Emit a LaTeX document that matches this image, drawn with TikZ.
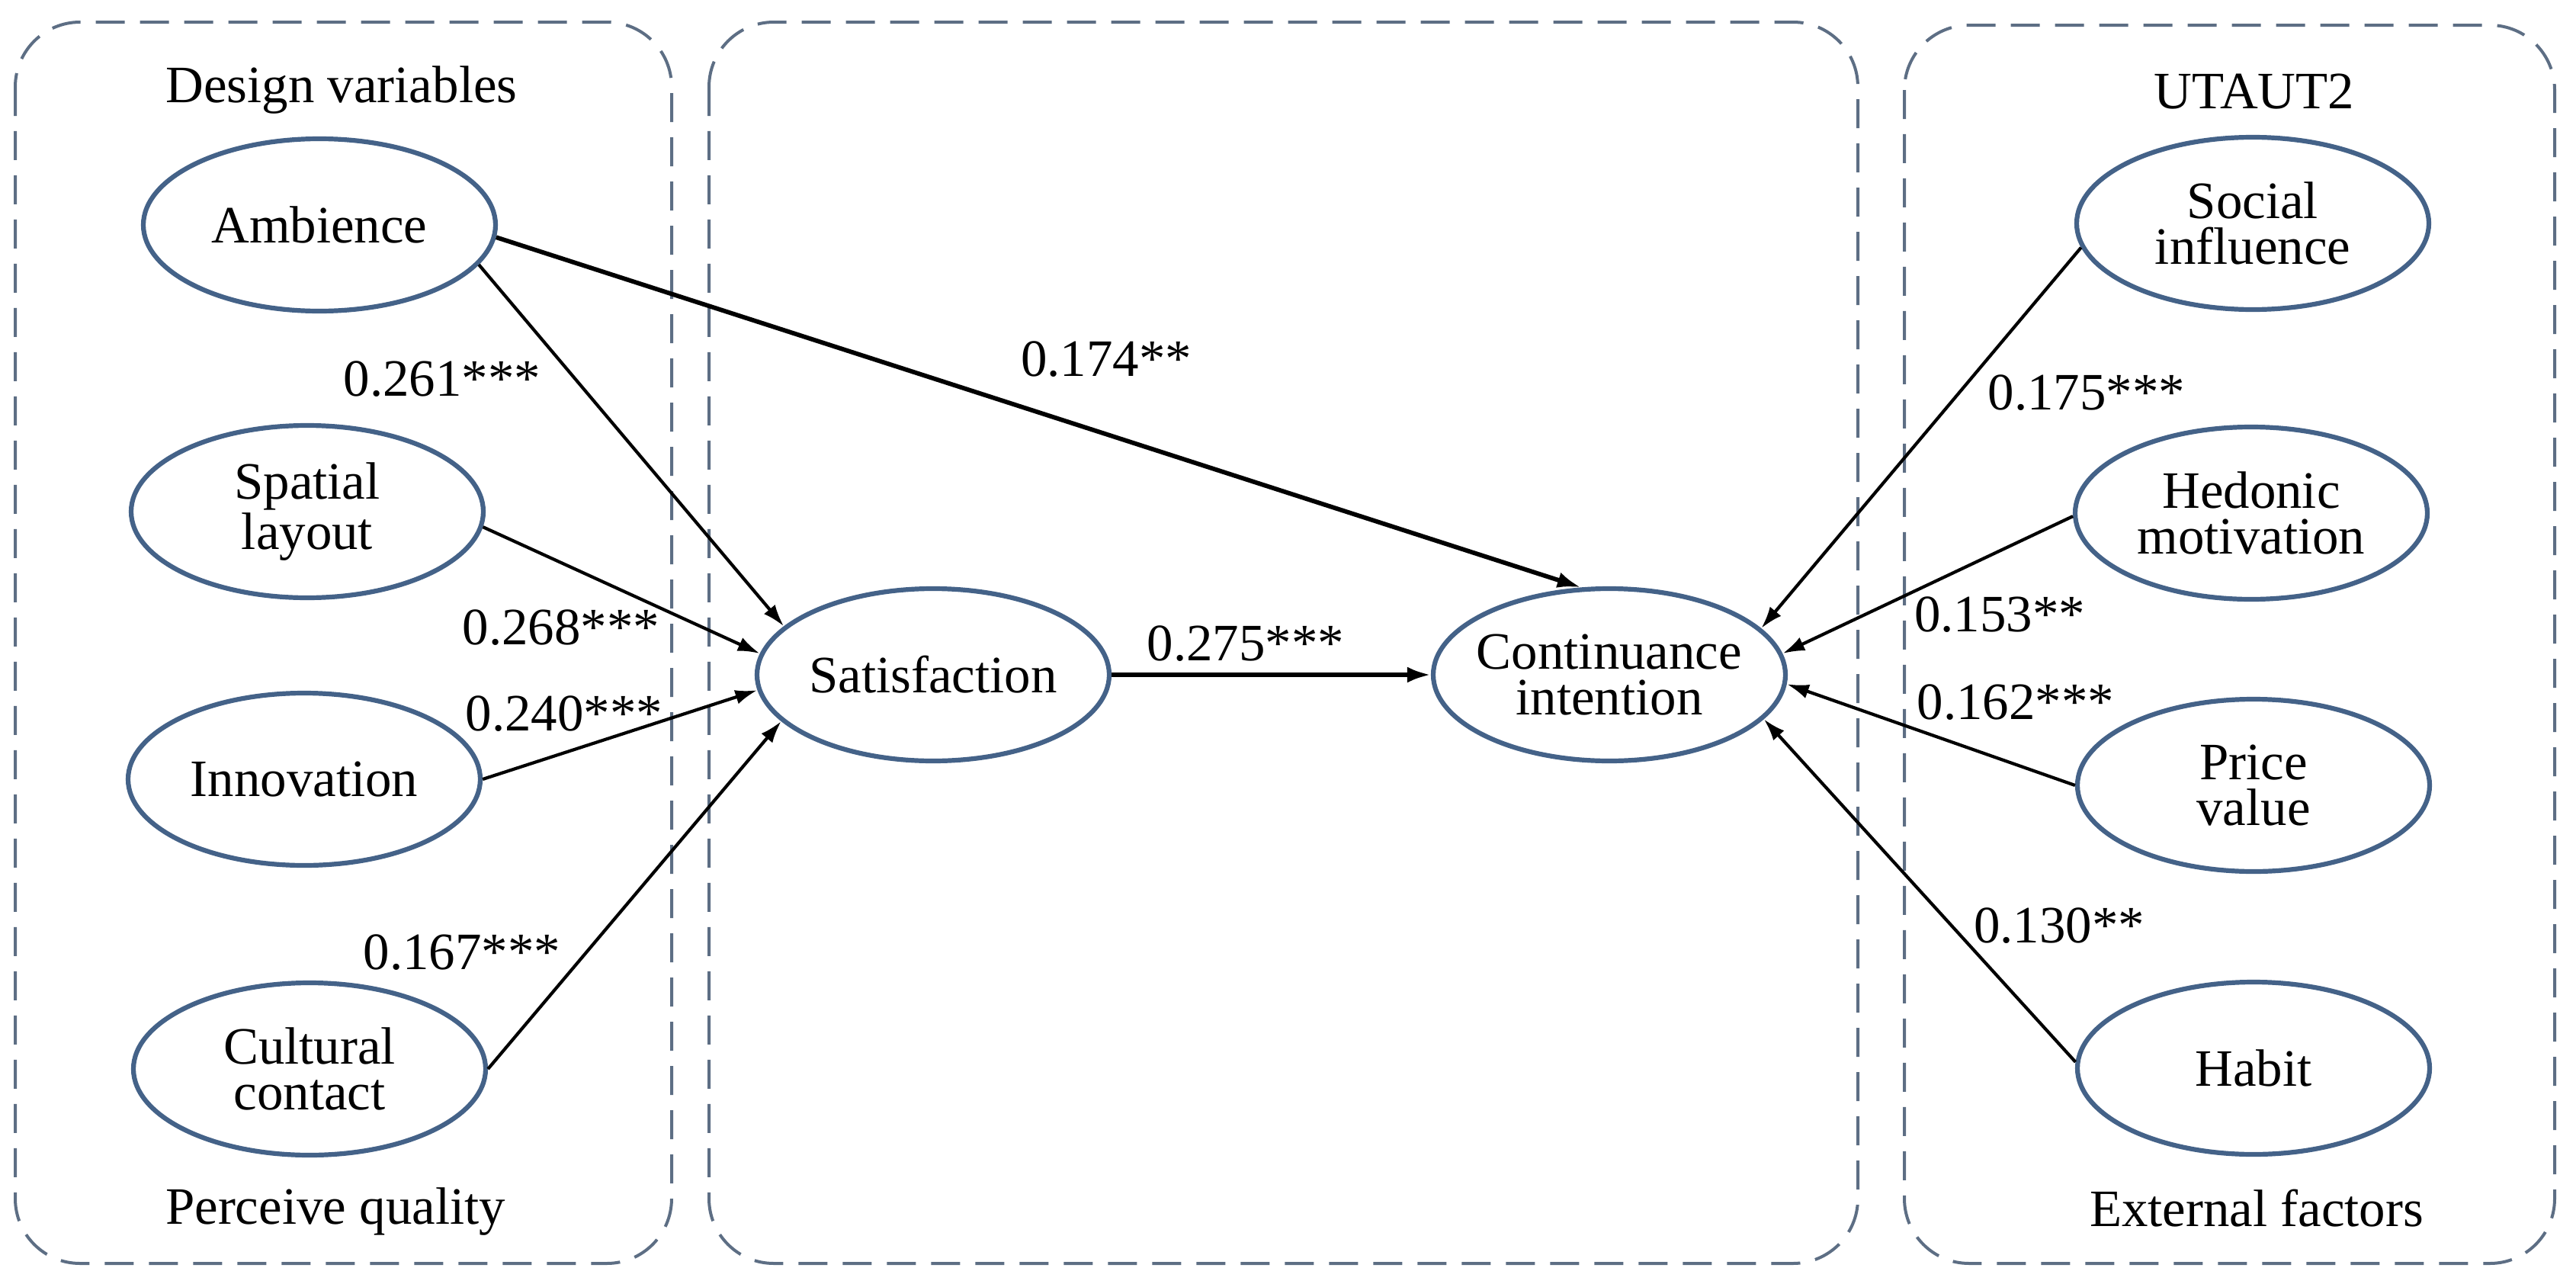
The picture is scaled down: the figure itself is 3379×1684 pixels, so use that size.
\documentclass[tikz,border=0pt]{standalone}
\usepackage{fontspec}
\setmainfont{Liberation Serif}
\usetikzlibrary{arrows.meta,shapes.geometric}
\definecolor{panelc}{RGB}{93,110,132}
\definecolor{ellc}{RGB}{68,98,136}
\begin{document}
\begin{tikzpicture}[x=0.1mm,y=-0.1mm,
  panel/.style={draw=panelc, line width=0.4mm, dash pattern=on 3.8mm off 2mm, rounded corners=8.5mm},
  ell/.style={ellipse, draw=ellc, line width=0.62mm, minimum width=46.2mm, minimum height=22.6mm, inner sep=0pt},
  txt/.style={font=\fontsize{19.6pt}{17.2pt}\selectfont, align=center, inner sep=0pt},
  lbl/.style={font=\fontsize{19.6pt}{17.2pt}\selectfont, inner sep=0pt, anchor=base},
  arr/.style={-{Latex[length=2.9mm,width=1.9mm]}, line width=0.42mm},
  bigarr/.style={-{Latex[length=3.1mm,width=2.1mm]}, line width=0.58mm}
]
\useasboundingbox (0,0) rectangle (3379,1684);
% panels
\draw[panel] (20,29) rectangle (881,1657);
\draw[panel] (930,29) rectangle (2437,1657);
\draw[panel] (2498,33) rectangle (3351,1657);
% titles
\node[lbl] (tdv) at (448,134) {Design variables};
\node[lbl] (tpq) at (440,1605) {Perceive quality};
\node[lbl] (tut) at (2957,142) {UTAUT2};
\node[lbl] (tef) at (2960,1608) {External factors};
% ellipses
\node[ell] (amb) at (419,295) {};
\node[ell] (spa) at (403,671) {};
\node[ell] (inn) at (399,1022) {};
\node[ell] (cul) at (406,1402) {};
\node[ell] (sat) at (1224,885) {};
\node[ell] (cont) at (2111,885) {};
\node[ell] (soc) at (2955,293) {};
\node[ell] (hed) at (2953,673) {};
\node[ell] (pri) at (2956,1030) {};
\node[ell] (hab) at (2956,1401) {};
% ellipse texts
\node[txt] (amb-t) at (amb) {Ambience};
\node[txt] (spa-t) at (spa) {Spatial\\layout};
\node[txt] (inn-t) at (inn) {Innovation};
\node[txt] (cul-t) at (cul) {Cultural\\contact};
\node[txt] (sat-t) at (sat) {Satisfaction};
\node[txt] (cont-t) at (cont) {Continuance\\intention};
\node[txt] (soc-t) at (soc) {Social\\influence};
\node[txt] (hed-t) at (hed) {Hedonic\\motivation};
\node[txt] (pri-t) at (pri) {Price\\value};
\node[txt] (hab-t) at (hab) {Habit};
% connectors
\draw[arr] (amb.-14) -- (sat.162);
\draw[bigarr] (amb.-4) -- (cont.108);
\draw[arr] (spa.-5) -- (sat.173);
\draw[arr] (inn.0) -- (sat.185);
\draw[arr] (cul.0) -- (sat.197);
\draw[bigarr] (sat.0) -- (cont.180);
\draw[arr] (soc.188) -- (cont.17);
\draw[arr] (hed.181) -- (cont.7);
\draw[arr] (pri.180) -- (cont.-3);
\draw[arr] (hab.178) -- (cont.-16);
% coefficients
\node[lbl] (l261) at (580,519) {0.261***};
\node[lbl] (l174) at (1451,493) {0.174**};
\node[lbl] (l268) at (736,845) {0.268***};
\node[lbl] (l240) at (740,958) {0.240***};
\node[lbl] (l167) at (606,1271) {0.167***};
\node[lbl] (l275) at (1634,866) {0.275***};
\node[lbl] (l175) at (2737,537) {0.175***};
\node[lbl] (l153) at (2623,828) {0.153**};
\node[lbl] (l162) at (2644,943) {0.162***};
\node[lbl] (l130) at (2701,1236) {0.130**};
\end{tikzpicture}
\end{document}
